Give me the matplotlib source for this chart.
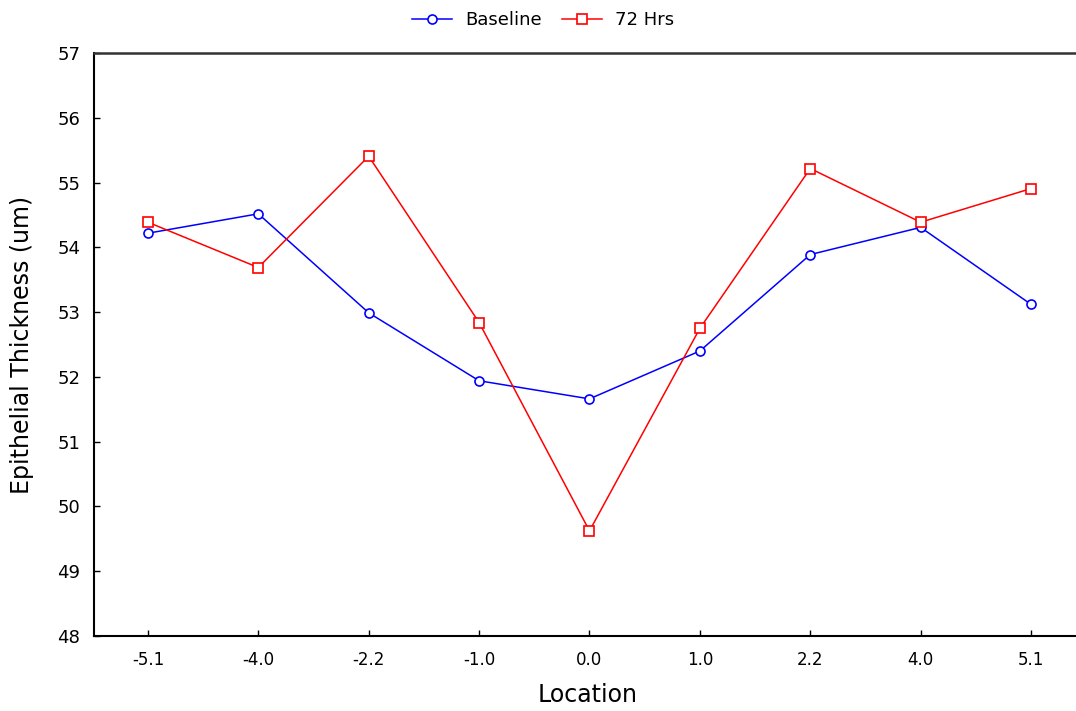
import matplotlib
matplotlib.use('Agg')
import matplotlib.pyplot as plt
import numpy as np

# Data
locations = ['-5.1', '-4.0', '-2.2', '-1.0', '0.0', '1.0', '2.2', '4.0', '5.1']
baseline = [54.22, 54.52, 52.99, 51.94, 51.66, 52.40, 53.89, 54.31, 53.12]
hrs72 = [54.39, 53.69, 55.41, 52.84, 49.62, 52.75, 55.22, 54.39, 54.91]

plt.rcParams['font.family'] = ['DejaVu Sans']

fig = plt.figure(figsize=(10.76, 7.11), dpi=100)
ax = fig.add_axes([0.0876, 0.1059, 0.9205, 0.8191])

x = np.arange(len(locations))
ax.plot(x, baseline, color='#0000ff', lw=1.1, marker='o', ms=6.5,
        mfc='white', mec='#0000ff', mew=1.2, label='Baseline')
ax.plot(x, hrs72, color='#ff0000', lw=1.1, marker='s', ms=7,
        mfc='white', mec='#ff0000', mew=1.2, label='72 Hrs')

ax.set_xlim(-0.486, len(locations) - 1 + 0.486)
ax.set_ylim(48, 57)
ax.set_xticks(x)
ax.set_xticklabels(locations)
ax.set_yticks(np.arange(48, 58, 1))

ax.tick_params(direction='in', length=4, width=1, colors='black')
ax.tick_params(axis='x', labelsize=12, pad=11)
ax.tick_params(axis='y', labelsize=13, pad=10)

for side in ['left', 'bottom']:
    ax.spines[side].set_linewidth(1.5)
    ax.spines[side].set_color('black')
ax.spines['top'].set_linewidth(1.8)
ax.spines['top'].set_color('#333333')
ax.spines['right'].set_visible(False)

ax.set_xlabel('Location', fontsize=17, va='center')
ax.xaxis.set_label_coords(0.498, -0.102)
ax.set_ylabel('Epithelial Thickness (um)', fontsize=17, va='center')
ax.yaxis.set_label_coords(-0.073, 0.5)

fig.legend(loc='center', bbox_to_anchor=(0.505, 0.972), ncol=2, frameon=False,
           fontsize=13, handlelength=2.2, handletextpad=0.75, columnspacing=1.1)

plt.savefig('out.png', dpi=100)
